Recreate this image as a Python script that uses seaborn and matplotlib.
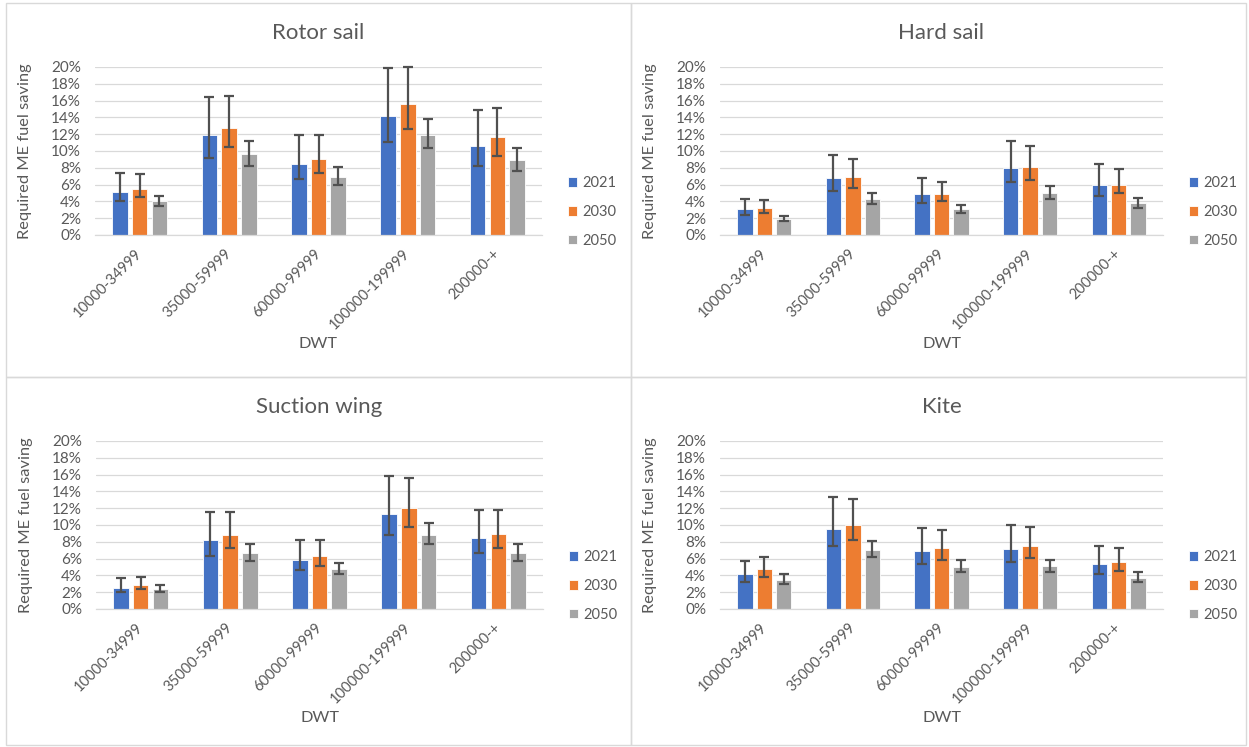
import matplotlib
matplotlib.use("Agg")
import matplotlib.pyplot as plt
from matplotlib.patches import Rectangle
from matplotlib.container import BarContainer
import seaborn as sns
import pandas as pd
import numpy as np

# ---------------- data ----------------
categories = ["10000-34999", "35000-59999", "60000-99999", "100000-199999", "200000-+"]
years = ["2021", "2030", "2050"]
titles = ["Rotor sail", "Hard sail", "Suction wing", "Kite"]

# values in percent; rows = 2021, 2030, 2050
rotor_mid = [[5.17, 11.85, 8.51, 14.19, 10.62],
             [5.53, 12.72, 9.10, 15.59, 11.61],
             [4.06, 9.62, 6.88, 11.85, 8.87]]
rotor_lo = [[4.06, 9.22, 6.64, 11.09, 8.23],
            [4.49, 10.42, 7.44, 12.64, 9.42],
            [3.50, 8.27, 5.96, 10.30, 7.67]]
rotor_hi = [[7.36, 16.46, 11.89, 19.92, 14.87],
            [7.28, 16.54, 11.93, 20.00, 15.11],
            [4.65, 11.17, 8.07, 13.80, 10.34]]

hard_mid = [[3.06, 6.76, 4.89, 7.95, 6.00],
            [3.18, 6.88, 4.89, 8.11, 6.00],
            [1.95, 4.29, 3.06, 5.01, 3.78]]
hard_lo = [[2.43, 5.29, 3.78, 6.28, 4.65],
           [2.62, 5.61, 4.02, 6.56, 5.01],
           [1.71, 3.74, 2.58, 4.33, 3.22]]
hard_hi = [[4.29, 9.54, 6.76, 11.21, 8.43],
           [4.14, 8.99, 6.36, 10.62, 7.83],
           [2.23, 5.01, 3.62, 5.84, 4.37]]

suction_mid = [[2.50, 8.21, 5.87, 11.31, 8.45],
               [2.86, 8.85, 6.35, 12.06, 8.97],
               [2.38, 6.63, 4.76, 8.85, 6.63]]
suction_lo = [[2.02, 6.35, 4.64, 8.85, 6.63],
              [2.42, 7.26, 5.12, 9.72, 7.26],
              [2.02, 5.75, 4.13, 7.74, 5.75]]
suction_hi = [[3.65, 11.59, 8.25, 15.83, 11.83],
              [3.81, 11.59, 8.25, 15.56, 11.75],
              [2.82, 7.74, 5.52, 10.24, 7.74]]

kite_mid = [[4.13, 9.56, 6.87, 7.10, 5.36],
            [4.72, 10.04, 7.22, 7.50, 5.60],
            [3.49, 6.98, 5.00, 5.12, 3.73]]
kite_lo = [[3.17, 7.50, 5.36, 5.63, 4.13],
           [3.77, 8.25, 5.83, 6.11, 4.48],
           [3.02, 6.15, 4.40, 4.37, 3.21]]
kite_hi = [[5.75, 13.29, 9.60, 9.96, 7.50],
           [6.15, 13.06, 9.40, 9.72, 7.26],
           [4.17, 8.10, 5.83, 5.87, 4.40]]

panels = [(rotor_mid, rotor_lo, rotor_hi),
          (hard_mid, hard_lo, hard_hi),
          (suction_mid, suction_lo, suction_hi),
          (kite_mid, kite_lo, kite_hi)]

colors = ["#4472C4", "#ED7D31", "#A5A5A5"]
text_col = "#595959"
grid_col = "#D9D9D9"

# ---------------- style ----------------
sns.set_style("white")
plt.rcParams["font.family"] = ["Lato", "DejaVu Sans"]

W, H = 1249, 747
fig = plt.figure(figsize=(W / 100, H / 100), dpi=100)

# panel frames (pixel coords)
frames = [(6, 3, 631, 377), (631, 3, 1246, 377), (6, 377, 631, 745), (631, 377, 1246, 745)]
for x0, y0, x1, y1 in frames:
    fig.patches.append(Rectangle((x0 / W, 1 - y1 / H), (x1 - x0) / W, (y1 - y0) / H,
                                 transform=fig.transFigure, fill=False,
                                 edgecolor="#D9D9D9", linewidth=1.0, zorder=0))

# axes boxes in pixel coords (left, top, right, bottom)
boxes = [(95, 67, 542, 235), (720, 67, 1163, 235), (96, 441, 543, 609), (720, 441, 1163, 609)]

for (mid, lo, hi), title, (l, t, r, b) in zip(panels, titles, boxes):
    ax = fig.add_axes([l / W, 1 - b / H, (r - l) / W, (b - t) / H])
    rows = []
    for yi, yr in enumerate(years):
        for ci, cat in enumerate(categories):
            rows.append({"DWT": cat, "Year": yr, "val": mid[yi][ci]})
    df = pd.DataFrame(rows)
    sns.barplot(data=df, x="DWT", y="val", hue="Year", order=categories, hue_order=years,
                palette=colors, saturation=1, width=0.66, gap=0.21, errorbar=None, ax=ax,
                edgecolor="white", linewidth=0.6, zorder=2)
    bar_conts = [c for c in ax.containers if isinstance(c, BarContainer)]
    # error bars placed at the bars drawn by seaborn
    for yi, cont in enumerate(bar_conts):
        xs = [p.get_x() + p.get_width() / 2 for p in cont.patches]
        hs = np.array([p.get_height() for p in cont.patches])
        lower = hs - np.array(lo[yi])
        upper = np.array(hi[yi]) - hs
        ax.errorbar(xs, hs, yerr=[lower, upper], fmt="none", ecolor="#505050",
                    elinewidth=1.6, capsize=3.5, capthick=1.6, zorder=3, clip_on=False)

    ax.set_ylim(0, 20)
    ax.set_xlim(-0.5, 4.5)
    ax.set_yticks(np.arange(0, 21, 2))
    ax.set_yticklabels([f"{v}%" for v in range(0, 21, 2)])
    ax.yaxis.grid(True, color=grid_col, linewidth=0.9, zorder=0)
    ax.set_axisbelow(True)
    for s in ["top", "right", "left"]:
        ax.spines[s].set_visible(False)
    ax.spines["bottom"].set_color(grid_col)
    ax.spines["bottom"].set_linewidth(0.9)
    ax.tick_params(axis="both", length=0, colors=text_col)
    ax.tick_params(axis="y", pad=10, labelsize=11)
    ax.tick_params(axis="x", pad=12, labelsize=10.5)
    for lab in ax.get_xticklabels():
        lab.set_rotation(45)
        lab.set_ha("right")
        lab.set_va("center")
        lab.set_rotation_mode("anchor")

    ax.set_title(title, fontsize=16, color=text_col, pad=20)
    ax.set_ylabel("Required ME fuel saving", fontsize=11.8, color=text_col)
    ax.yaxis.set_label_coords(-63 / (r - l), 0.5)
    ax.set_xlabel("DWT", fontsize=11.8, color=text_col)
    ax.xaxis.set_label_coords(0.5, -102 / (b - t))

    handles, labels = ax.get_legend_handles_labels()
    ax.legend(handles, labels, loc="center left", bbox_to_anchor=(1.045, 0.137),
              frameon=False, fontsize=10.5, labelcolor=text_col,
              handlelength=0.65, handleheight=0.65, handletextpad=0.35,
              labelspacing=1.0, borderaxespad=0)

fig.savefig("out.png", dpi=100, facecolor="white")
